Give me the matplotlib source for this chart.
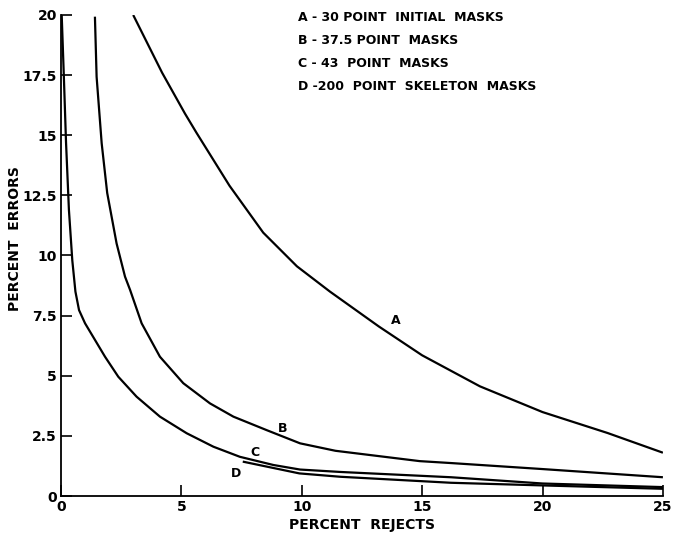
import matplotlib.pyplot as plt

# Percent errors vs percent rejects for four mask sets
# values

a_x = [3.0, 3.55, 4.2, 5.15, 5.63, 7.0, 8.4, 9.8, 11.17, 13.2, 15.0, 17.4, 20.0, 22.7, 25.0]
a_y = [20.0, 18.9, 17.6, 15.9, 15.1, 12.9, 10.95, 9.55, 8.5, 7.05, 5.85, 4.56, 3.49, 2.62, 1.80]

b_x = [1.41, 1.48, 1.69, 1.92, 2.31, 2.66, 2.87, 3.35, 4.11, 5.08, 6.19, 7.16, 8.54, 9.93,
       11.4, 14.9, 16.2, 20.0, 25.0]
b_y = [19.93, 17.43, 14.67, 12.6, 10.5, 9.12, 8.57, 7.18, 5.79, 4.69, 3.85, 3.30, 2.74, 2.19,
       1.88, 1.45, 1.37, 1.12, 0.78]

c_x = [0.03, 0.12, 0.21, 0.33, 0.47, 0.6, 0.75, 1.0, 1.83, 2.38, 3.14, 4.11, 5.22, 6.33,
       7.43, 8.82, 9.93, 11.6, 16.2, 20.0, 25.0]
c_y = [20.0, 17.43, 14.7, 11.9, 9.8, 8.5, 7.73, 7.18, 5.79, 4.96, 4.13, 3.30, 2.61, 2.05,
       1.63, 1.29, 1.10, 1.0, 0.78, 0.52, 0.37]

d_x = [7.55, 9.9, 11.6, 16.2, 20.0, 25.0]
d_y = [1.43, 0.94, 0.80, 0.55, 0.44, 0.30]

curve_names = ['A', 'B', 'C', 'D']
name_pos = [(13.9, 7.3), (9.2, 2.8), (8.05, 1.8), (7.27, 0.95)]
legend_lines = ['A - 30 POINT  INITIAL  MASKS',
                'B - 37.5 POINT  MASKS',
                'C - 43  POINT  MASKS',
                'D -200  POINT  SKELETON  MASKS']

x_ticks = [0, 5, 10, 15, 20, 25]
y_ticks = [0, 2.5, 5, 7.5, 10, 12.5, 15, 17.5, 20]
y_tick_labels = ['0', '2.5', '5', '7.5', '10', '12.5', '15', '17.5', '20']

plt.rcParams['font.family'] = ['DejaVu Sans']

fig = plt.figure(figsize=(6.73, 5.45), dpi=100)
ax = fig.add_axes([0.0906, 0.0899, 0.8944, 0.8826])

for xs, ys in [(a_x, a_y), (b_x, b_y), (c_x, c_y), (d_x, d_y)]:
    ax.plot(xs, ys, color='black', lw=1.6, solid_capstyle='butt', solid_joinstyle='round')

for name, (px, py) in zip(curve_names, name_pos):
    ax.text(px, py, name, fontsize=9, fontweight='bold', ha='center', va='center')

for i, line in enumerate(legend_lines):
    ax.text(9.85, 19.9 - i * 0.96, line, fontsize=9, fontweight='bold',
            ha='left', va='center')

ax.set_xlim(0, 25)
ax.set_ylim(0, 20)
ax.set_xticks(x_ticks)
ax.set_xticklabels([str(t) for t in x_ticks], fontsize=10, fontweight='bold')
ax.set_yticks(y_ticks)
ax.set_yticklabels(y_tick_labels, fontsize=10, fontweight='bold')
ax.tick_params(direction='in', length=8, width=1.2, pad=3)

ax.spines['top'].set_visible(False)
ax.spines['right'].set_visible(False)
ax.spines['left'].set_linewidth(1.3)
ax.spines['bottom'].set_linewidth(1.3)

# axis titles placed like the scan
fig.text(0.538, 0.037, 'PERCENT  REJECTS', fontsize=10, fontweight='bold',
         ha='center', va='center')
fig.text(0.023, 0.563, 'PERCENT  ERRORS', fontsize=10, fontweight='bold',
         ha='center', va='center', rotation=90)

fig.savefig('out.png', dpi=100)
